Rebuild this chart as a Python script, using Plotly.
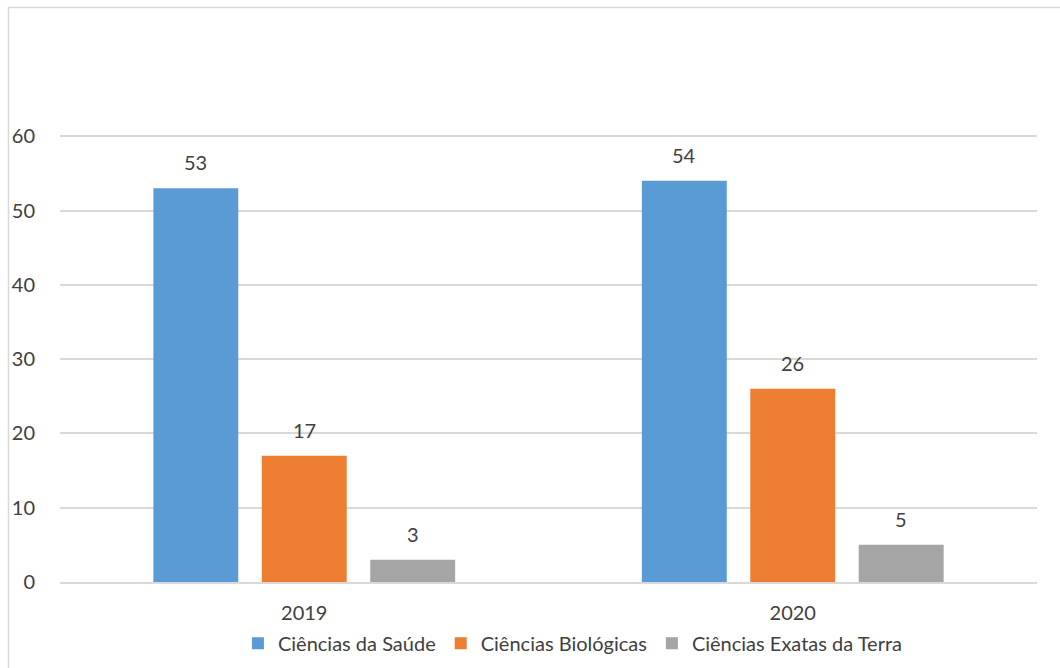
import plotly.graph_objects as go

categories = ["2019", "2020"]
series_names = ["Ciências da Saúde", "Ciências Biológicas", "Ciências Exatas da Terra"]
saude = [53, 54]
biologicas = [17, 26]
exatas = [3, 5]
colors = ["#5B9BD5", "#ED7D31", "#A5A5A5"]
y_ticks = [0, 10, 20, 30, 40, 50, 60]

series_values = [saude, biologicas, exatas]
font_family = "Lato, 'Open Sans', sans-serif"
text_color = "#404040"

fig = go.Figure()
for name, vals, col in zip(series_names, series_values, colors):
    fig.add_trace(go.Bar(name=name, x=categories, y=vals, marker=dict(color=col, line=dict(width=0))))

# data labels as annotations, offset horizontally by the bar slot
slot_px = 108.5
for i, vals in enumerate(series_values):
    for j, v in enumerate(vals):
        fig.add_annotation(x=j, y=v, text=str(v), showarrow=False,
                           xshift=(i - 1) * slot_px, yshift=26, yanchor="middle",
                           font=dict(size=20, color=text_color, family=font_family))

fig.update_layout(
    width=1060, height=668,
    margin=dict(l=60, r=23, t=62, b=86, autoexpand=False),
    paper_bgcolor="white", plot_bgcolor="white",
    barmode="group", bargap=0.334, bargroupgap=0.217,
    font=dict(family=font_family, size=20, color=text_color),
    showlegend=True,
    legend=dict(orientation="h", x=0.525, xanchor="center", y=-0.118, yanchor="middle",
                bgcolor="rgba(0,0,0,0)",
                font=dict(size=20, color=text_color), traceorder="normal"),
    xaxis=dict(type="category", range=[-0.5, 1.5], automargin=False, showgrid=False,
               showline=True, linecolor="#D9D9D9", linewidth=1.5,
               ticks="", ticklabelstandoff=12, tickfont=dict(size=20, color=text_color)),
    yaxis=dict(range=[0, 70], tickvals=y_ticks, automargin=False, showgrid=True,
               gridcolor="#D9D9D9", gridwidth=1.5, zeroline=False, showline=False, ticks="",
               ticklabelstandoff=24, tickfont=dict(size=20, color=text_color)),
)

# outer chart border (Excel chart area)
fig.add_shape(type="rect", xref="paper", yref="paper",
              x0=(8.5 - 60) / 977, x1=(1065 - 60) / 977,
              y0=(582 - 675) / 520, y1=(582 - 7.5) / 520,
              line=dict(color="#D9D9D9", width=1.5), fillcolor="rgba(0,0,0,0)", layer="below")

fig.write_html("out.html")
